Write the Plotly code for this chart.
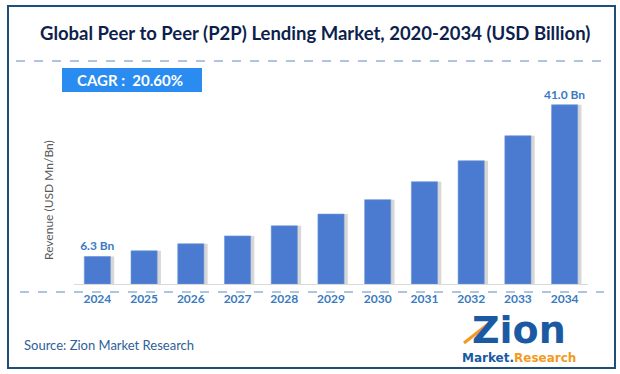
import plotly.graph_objects as go

years = ["2024", "2025", "2026", "2027", "2028", "2029", "2030", "2031", "2032", "2033", "2034"]
revenue = [6.3, 7.6, 9.2, 11.0, 13.3, 16.0, 19.3, 23.4, 28.2, 33.9, 41.0]
bar_labels = ["6.3 Bn", "", "", "", "", "", "", "", "", "", "41.0 Bn"]

title_text = "Global Peer to Peer (P2P) Lending Market, 2020-2034 (USD Billion)"
cagr_text = "CAGR :  20.60%"
y_title = "Revenue (USD Mn/Bn)"
source_text = "Source: Zion Market Research"

W, H = 620, 374
L, R, T, B = 74, 32, 100, 90
PW, PH = W - L - R, H - T - B


def xp(px):
    return (px - L) / PW


def yp(py):
    return (H - B - py) / PH


FONT = "Lato"
LABEL_COLOR = "#3a7abf"
FRAME = "#1f4e79"

fig = go.Figure()

fig.add_trace(go.Bar(
    x=years, y=revenue, width=0.56, offset=-0.2,
    marker=dict(color="rgba(110,110,110,0.28)", line=dict(width=0)),
    hoverinfo="skip", showlegend=False,
))
fig.add_trace(go.Bar(
    x=years, y=revenue, width=0.56, offset=-0.28,
    marker=dict(color="#4a7bd0", line=dict(color="#6f97dc", width=0.6)),
    text=bar_labels, textposition="outside", cliponaxis=False,
    constraintext="none",
    textfont=dict(family=FONT, size=12, color=LABEL_COLOR, weight="bold"),
    showlegend=False,
))

shapes = [
    dict(type="rect", xref="paper", yref="paper",
         x0=xp(8), x1=xp(615), y0=yp(368), y1=yp(6),
         line=dict(color=FRAME, width=2)),
    dict(type="line", xref="paper", yref="paper",
         x0=xp(16), x1=xp(604), y0=yp(61), y1=yp(61),
         line=dict(color="#5b8ac6", width=1, dash="dash")),
    dict(type="line", xref="paper", yref="paper",
         x0=xp(20), x1=xp(604), y0=yp(292), y1=yp(292),
         line=dict(color="#5b8ac6", width=1, dash="dash")),
    dict(type="rect", xref="paper", yref="paper",
         x0=xp(62), x1=xp(202), y0=yp(92), y1=yp(68),
         line=dict(width=0), fillcolor="#2a8cf0"),
    dict(type="line", xref="paper", yref="paper",
         x0=xp(464), x1=xp(497), y0=yp(343), y1=yp(317),
         line=dict(color="#f39a1e", width=3)),
]

annotations = [
    dict(text=title_text, xref="paper", yref="paper", x=xp(315), y=yp(33),
         showarrow=False, xanchor="center", yanchor="middle",
         font=dict(family=FONT, size=18.5, color="#0e1f4d", weight="bold")),
    dict(text=cagr_text, xref="paper", yref="paper", x=xp(75), y=yp(80),
         showarrow=False, xanchor="left", yanchor="middle",
         font=dict(family=FONT, size=15, color="white", weight="bold")),
    dict(text=y_title, xref="paper", yref="paper", x=xp(48), y=yp(200),
         showarrow=False, textangle=-90, xanchor="center", yanchor="middle",
         font=dict(family=FONT, size=12, color="#595959")),
    dict(text=source_text, xref="paper", yref="paper", x=xp(22), y=yp(345),
         showarrow=False, xanchor="left", yanchor="middle",
         font=dict(family=FONT, size=13, color="#2e6099")),
    dict(text="Zion", xref="paper", yref="paper", x=xp(519), y=yp(330),
         showarrow=False, xanchor="center", yanchor="middle",
         font=dict(family="DejaVu Sans", size=38, color="#1b5aa3", weight="bold")),
    dict(text="<span style='color:#1b5aa3'>Market.</span><span style='color:#f39a1e'>Research</span>",
         xref="paper", yref="paper", x=xp(519), y=yp(358),
         showarrow=False, xanchor="center", yanchor="middle",
         font=dict(family="DejaVu Sans", size=12, weight="bold")),
]

fig.update_layout(
    width=W, height=H,
    margin=dict(l=L, r=R, t=T, b=B),
    plot_bgcolor="white",
    barmode="overlay",
    xaxis=dict(
        type="category", range=[-0.5, 10.5],
        showline=True, linecolor="#d9d9d9", linewidth=1,
        ticks="outside", ticklen=4, tickcolor="rgba(0,0,0,0)",
        showgrid=False, zeroline=False,
        tickfont=dict(family=FONT, size=12, color=LABEL_COLOR, weight="bold"),
    ),
    yaxis=dict(range=[0, 42.1], showticklabels=False, showline=False,
               ticks="", showgrid=False, zeroline=False),
    shapes=shapes,
    annotations=annotations,
    showlegend=False,
)

fig.write_html("out.html", config={"displayModeBar": False},
               post_script="document.body.style.margin='0';")
